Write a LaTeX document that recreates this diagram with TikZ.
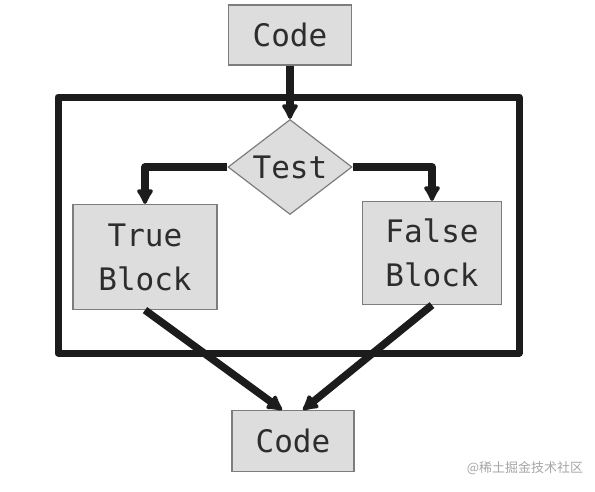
\documentclass[tikz,border=0pt]{standalone}
\usepackage{fontspec}
\newfontfamily\codefont{DejaVu Sans Mono}
\newfontfamily\cjkfont{Noto Sans CJK SC}
\usepackage{tikz}
\usetikzlibrary{arrows.meta,positioning,shapes.geometric}
\definecolor{boxfill}{RGB}{221,221,221}
\definecolor{boxline}{RGB}{125,125,125}
\definecolor{inktext}{RGB}{45,45,45}
\definecolor{inkline}{RGB}{28,28,28}
\definecolor{markgray}{RGB}{165,165,165}

\begin{document}
\begin{tikzpicture}[
  x=1pt,y=-1pt,
  box/.style={draw=boxline,line width=1.2pt,fill=boxfill,inner sep=0pt,
              align=center,text=inktext,font=\codefont\fontsize{31}{44}\selectfont},
  test/.style={box,diamond,aspect=1.3,minimum width=124pt,minimum height=95pt},
  arr/.style={-{Latex[round,length=18pt,width=20pt]},draw=inkline,line width=7.5pt,line join=round},
  frame/.style={draw=inkline,line width=7pt,line join=round}
]
\useasboundingbox (0,0) rectangle (595,491);
\node[box,minimum width=123pt,minimum height=60pt] (code1) at (290,35) {Code};
\node[test] (test) at (290,167) {Test};
\node[box,minimum width=144pt,minimum height=105pt] (tb) at (145,257) {True\\Block};
\node[box,minimum width=139pt,minimum height=103pt] (fb) at (432,253) {False\\Block};
\node[box,minimum width=122pt,minimum height=61pt] (code2) at (293,441) {Code};
\node[text=markgray,font=\cjkfont\fontsize{13}{15}\selectfont] (mark) at (525,468) {@稀土掘金技术社区};
\draw[frame] (58,97) rectangle (519,353);
\draw[arr] (code1) -- (test);
\draw[arr] (test.west) -| (tb.north);
\draw[arr] (test.east) -| (fb.north);
\draw[arr] (tb.south) -- ([xshift=-11pt]code2.north);
\draw[arr] (fb.south) -- ([xshift=10pt]code2.north);
\end{tikzpicture}
\end{document}
